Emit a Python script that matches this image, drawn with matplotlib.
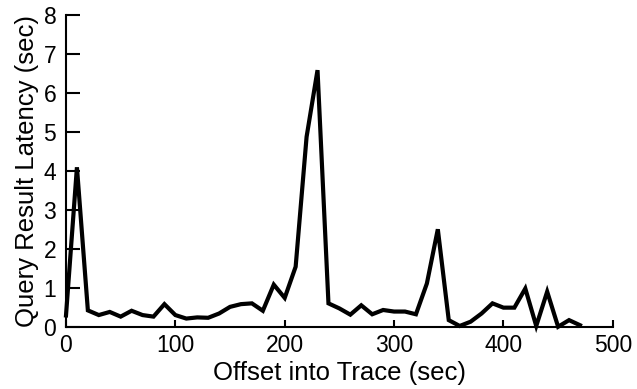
import numpy as np
import matplotlib
matplotlib.use("Agg")
import matplotlib.pyplot as plt

plt.rcParams['font.family'] = ['Liberation Sans', 'DejaVu Sans']

offset = np.arange(0, 480, 10)
latency = [0.30, 4.10, 0.43, 0.31, 0.39, 0.27, 0.42, 0.31, 0.27, 0.59,
           0.31, 0.22, 0.25, 0.24, 0.35, 0.52, 0.59, 0.61, 0.42, 1.09,
           0.75, 1.55, 4.88, 6.59, 0.61, 0.48, 0.32, 0.56, 0.33, 0.44,
           0.40, 0.40, 0.33, 1.12, 2.51, 0.18, 0.03, 0.14, 0.35, 0.61,
           0.50, 0.50, 0.99, 0.03, 0.91, 0.01, 0.18, 0.05]


def main():
    fig = plt.figure(figsize=(6.37, 3.89), dpi=100)
    ax = fig.add_axes([0.1036, 0.159, 0.8584, 0.802])

    ax.plot(offset, latency, color='black', linewidth=3, clip_on=False,
            solid_joinstyle='miter')

    ax.set_xlim(0, 500)
    ax.set_ylim(0, 8)
    ax.set_xticks([0, 100, 200, 300, 400, 500])
    ax.set_yticks(range(0, 9))

    for s in ['top', 'right']:
        ax.spines[s].set_visible(False)
    for s in ['left', 'bottom']:
        ax.spines[s].set_linewidth(1.5)

    # y ticks are longer than x ticks
    ax.tick_params(axis='x', direction='in', length=5, width=1.5,
                   labelsize=16.5, pad=5)
    ax.tick_params(axis='y', direction='in', length=10, width=1.5,
                   labelsize=16.5, pad=7)
    ax.set_xlabel('Offset into Trace (sec)', fontsize=18.5, labelpad=3)
    ax.set_ylabel('Query Result Latency (sec)', fontsize=18.5, labelpad=3)

    fig.savefig('out.png', dpi=100)


if __name__ == "__main__":
    main()
